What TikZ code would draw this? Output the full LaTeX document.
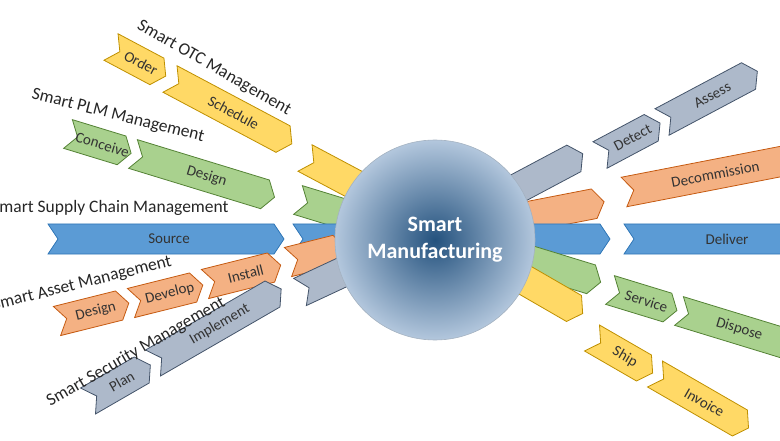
\documentclass[tikz,border=0pt]{standalone}
\usepackage{fontspec}
\setmainfont{Carlito}
\definecolor{otcfill}{HTML}{FFD966}
\definecolor{otcline}{HTML}{BF9000}
\definecolor{plmfill}{HTML}{A9D18E}
\definecolor{plmline}{HTML}{548235}
\definecolor{scmfill}{HTML}{5B9BD5}
\definecolor{scmline}{HTML}{2E75B6}
\definecolor{astfill}{HTML}{F4B183}
\definecolor{astline}{HTML}{C55A11}
\definecolor{secfill}{HTML}{ADB9CA}
\definecolor{secline}{HTML}{44546A}
\definecolor{ballin}{HTML}{24527E}
\definecolor{ballout}{HTML}{B3C7DD}

% #1 name, #2 start, #3 angle, #4 length, #5 colour set, #6 text
\newcommand{\chev}[6]{%
  \begin{scope}[shift={#2}, rotate=#3]
    \draw[fill=#5fill, draw=#5line, line width=0.8pt]
      (0,15) -- ({#4-10},15) -- (#4,0) -- ({#4-10},-15) -- (0,-15) -- (10,0) -- cycle;
    \node[steptext, rotate=#3] (#1) at ({#4/2+3},0) {#6};
  \end{scope}}

\begin{document}
\begin{tikzpicture}[x=1pt, y=1pt,
    steptext/.style={font=\fontsize{15}{15}\selectfont, text=black!80},
    grouplabel/.style={font=\fontsize{17.5}{17.5}\selectfont, text=black!85, inner sep=0pt}]
\useasboundingbox (0,0) rectangle (780,440);

% Stubs under the ball, left
\chev{stubotcL}{(305,282)}{-28}{70}{otc}{}
\chev{stubplmL}{(298,240)}{-17}{60}{plm}{}
\chev{stubscmL}{(293,201)}{0}{60}{scm}{}
\chev{stubastL}{(288,178)}{14}{60}{ast}{}
\chev{stubsecL}{(300,148)}{25}{60}{sec}{}

% Stubs under the ball, right
\chev{stubsecR}{(505,245)}{28}{88}{sec}{}
\chev{stubastR}{(500,218)}{11}{106}{ast}{}
\chev{stubscmR}{(500,201)}{0}{110}{scm}{}
\chev{stubplmR}{(505,187)}{-17}{100}{plm}{}
\chev{stubotcR}{(490,180)}{-30}{107}{otc}{}

% Ball
\shade[inner color=ballin, outer color=ballout, draw=ballout!70!gray, line width=0.6pt]
  (435,200) circle (100);
\node[font=\fontsize{22}{27}\selectfont\bfseries, text=white, align=center] (ball) at (435,200) {Smart\\Manufacturing};

% Smart OTC Management
\chev{order}{(111,393)}{-28}{62}{otc}{Order}
\chev{schedule}{(170,361)}{-28}{138}{otc}{Schedule}
\node[grouplabel, rotate=-30] (otc) at (214,372) {Smart OTC Management};

% Smart PLM Management
\chev{conceive}{(68,306)}{-17}{66}{plm}{Conceive}
\chev{designplm}{(133,286)}{-17}{148}{plm}{Design}
\node[grouplabel, rotate=-14] (plm) at (118,324) {Smart PLM Management};

% Smart Supply Chain Management
\chev{source}{(48,201)}{0}{236}{scm}{Source}
\node[grouplabel] (scm) at (110,232) {Smart Supply Chain Management};

% Smart Asset Management
\chev{designast}{(57,119)}{14}{74}{ast}{Design}
\chev{develop}{(131,137)}{14}{74}{ast}{Develop}
\chev{install}{(205,156)}{14}{78}{ast}{Install}
\node[grouplabel, rotate=14] (ast) at (82,156) {Smart Asset Management};

% Smart Security Management
\chev{plan}{(88,39)}{30}{72}{sec}{Plan}
\chev{implement}{(153,77)}{30}{148}{sec}{Implement}
\node[grouplabel, rotate=30] (sec) at (136,88) {Smart Security Management};

% Right side
\chev{detect}{(600,285)}{28}{68}{sec}{Detect}
\chev{assess}{(662,318)}{28}{108}{sec}{Assess}
\chev{decommission}{(624,248)}{11}{180}{ast}{Decommission}
\chev{deliver}{(624,201)}{0}{200}{scm}{Deliver}
\chev{service}{(610,150)}{-17}{70}{plm}{Service}
\chev{dispose}{(679,129)}{-17}{120}{plm}{Dispose}
\chev{ship}{(592,102)}{-30}{70}{otc}{Ship}
\chev{invoice}{(655,66)}{-30}{108}{otc}{Invoice}
\end{tikzpicture}
\end{document}
